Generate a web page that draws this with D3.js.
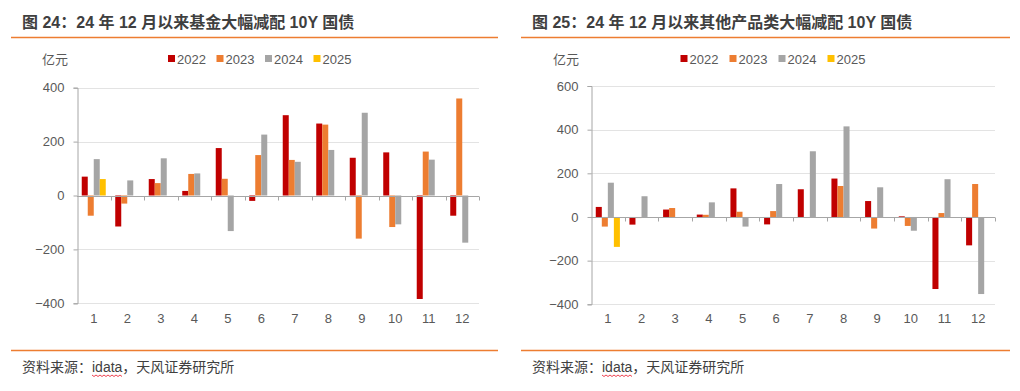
<!DOCTYPE html>
<html>
<head>
<meta charset="utf-8">
<script src="https://cdn.jsdelivr.net/npm/d3@7/dist/d3.min.js"></script>
<style>
  html, body { margin: 0; padding: 0; background: #fff; }
  svg text { font-family: "Liberation Sans", Arial, "Noto Sans CJK SC", sans-serif; }
</style>
</head>
<body>
<div id="main"></div>
<script>
// months on the x axis
var months = ['1', '2', '3', '4', '5', '6', '7', '8', '9', '10', '11', '12'];
var years = ['2022', '2023', '2024', '2025'];
var yearColors = ['#C00000', '#ED7D31', '#A5A5A5', '#FFC000'];

// figure 24: funds, 亿元
var fund2022 = [70, -115, 61, 17, 176, -20, 298, 267, 140, 160, -384, -75];
var fund2023 = [-75, -30, 46, 80, 62, 150, 132, 263, -160, -117, 163, 360];
var fund2024 = [135, 56, 138, 82, -132, 226, 125, 169, 307, -107, 133, -175];
var fund2025 = [61, null, null, null, null, null, null, null, null, null, null, null];
var fundTicks = [-400, -200, 0, 200, 400];

// figure 25: other products, 亿元
var other2022 = [46, -35, 34, 11, 131, -34, 127, 176, 73, 3, -330, -130];
var other2023 = [-44, -5, 41, 10, 24, 27, 0, 142, -53, -41, 18, 151];
var other2024 = [157, 95, 0, 67, -44, 151, 301, 415, 136, -63, 173, -353];
var other2025 = [-137, null, null, null, null, null, null, null, null, null, null, null];
var otherTicks = [-400, -200, 0, 200, 400, 600];

var width = 1020, height = 391;
var svg = d3.select('#main').append('svg').attr('width', width).attr('height', height);

function draw_panel(cfg) {
  var g = svg.append('g').attr('transform', 'translate(' + cfg.left + ',0)');

  // title + orange rules
  g.append('text')
    .attr('x', 22).attr('y', 28)
    .attr('font-size', 16).attr('font-weight', 'bold').attr('fill', '#3F3F3F')
    .text(cfg.title);
  g.append('line').attr('x1', 11).attr('x2', cfg.ruleEnd).attr('y1', 37.5).attr('y2', 37.5)
    .attr('stroke', '#ED7D31').attr('stroke-width', 1.5);
  g.append('line').attr('x1', 11).attr('x2', cfg.ruleEnd).attr('y1', 350.5).attr('y2', 350.5)
    .attr('stroke', '#ED7D31').attr('stroke-width', 1.5);

  // source, with the spell-check squiggle under idata
  var src = g.append('text').attr('x', 22).attr('y', 372).attr('font-size', 14).attr('fill', '#404040');
  src.append('tspan').text('资料来源：');
  var idt = src.append('tspan').text('idata');
  src.append('tspan').text('，天风证券研究所');
  var bb = idt.node().getBBox();
  var wave = [];
  for (var wx = bb.x; wx <= bb.x + bb.width; wx += 2) {
    wave.push([wx, 375 + ((Math.round((wx - bb.x) / 2) % 2) ? 1.5 : 0)]);
  }
  g.append('path').attr('d', d3.line()(wave)).attr('fill', 'none').attr('stroke', '#E81123').attr('stroke-width', 0.8);

  // unit + legend
  g.append('text').attr('x', cfg.unitX).attr('y', 64).attr('font-size', 13).attr('fill', '#595959').text('亿元');
  var leg = g.selectAll('.leg').data(years).enter().append('g')
    .attr('transform', function (d, i) { return 'translate(' + (cfg.legX + i * cfg.legStep) + ',0)'; });
  leg.append('rect').attr('x', 0).attr('y', 55).attr('width', 7).attr('height', 7)
    .attr('fill', function (d, i) { return yearColors[i]; });
  leg.append('text').attr('x', 9).attr('y', 63.5).attr('font-size', 13).attr('fill', '#595959')
    .text(function (d) { return d; });

  var x = d3.scaleBand().domain(months).range([cfg.x0, cfg.x1]).padding(0);
  var xs = d3.scaleBand().domain(years).range([0, x.bandwidth()]).paddingInner(0).paddingOuter(0.79);
  var y = d3.scaleLinear().domain(cfg.domain).range([cfg.y0, cfg.y1]);

  // gridlines
  g.selectAll('.grid').data(cfg.ticks.filter(function (t) { return t !== 0; })).enter().append('line')
    .attr('x1', cfg.x0).attr('x2', cfg.x1)
    .attr('y1', function (d) { return Math.round(y(d)) + 0.5; })
    .attr('y2', function (d) { return Math.round(y(d)) + 0.5; })
    .attr('stroke', '#E3E3E3').attr('stroke-width', 1);

  // bars
  cfg.series.forEach(function (vals, si) {
    var rows = vals.map(function (v, i) { return { m: months[i], v: v }; })
      .filter(function (d) { return d.v !== null && d.v !== 0; });
    g.selectAll('.bar' + si).data(rows).enter().append('rect')
      .attr('class', 'bar' + si)
      .attr('x', function (d) { return x(d.m) + xs(years[si]); })
      .attr('width', xs.bandwidth())
      .attr('y', function (d) { return y(Math.max(0, d.v)); })
      .attr('height', function (d) { return Math.abs(y(d.v) - y(0)); })
      .attr('fill', yearColors[si]);
  });

  // y axis
  var yAxis = d3.axisLeft(y).tickValues(cfg.ticks).tickSize(4).tickPadding(9);
  var ya = g.append('g').attr('transform', 'translate(' + (Math.round(cfg.x0) + 0.5) + ',0)').call(yAxis);
  ya.select('.domain').attr('stroke', '#A6A6A6');
  ya.selectAll('.tick line').attr('stroke', '#A6A6A6');
  ya.selectAll('.tick text').attr('font-size', 13).attr('fill', '#595959')
    .style('font-family', '"Liberation Sans", Arial, sans-serif');

  // zero line with category ticks
  var zy = Math.round(y(0)) + 0.5;
  g.append('line').attr('x1', cfg.x0).attr('x2', cfg.x1).attr('y1', zy).attr('y2', zy)
    .attr('stroke', '#A6A6A6').attr('stroke-width', 1);
  var bounds = months.map(function (m) { return x(m); }).concat([cfg.x1]).slice(1);
  g.selectAll('.ztick').data(bounds).enter().append('line')
    .attr('x1', function (d) { return Math.round(d) + 0.5; })
    .attr('x2', function (d) { return Math.round(d) + 0.5; })
    .attr('y1', zy).attr('y2', zy + 4)
    .attr('stroke', '#A6A6A6');

  // month labels
  g.selectAll('.mlab').data(months).enter().append('text')
    .attr('x', function (d) { return x(d) + x.bandwidth() / 2; })
    .attr('y', 323)
    .attr('text-anchor', 'middle').attr('font-size', 13).attr('fill', '#595959')
    .text(function (d) { return d; });
}

draw_panel({
  left: 0,
  title: '图 24：24 年 12 月以来基金大幅减配 10Y 国债',
  ruleEnd: 498,
  unitX: 42, legX: 168, legStep: 48.5,
  x0: 77, x1: 479,
  domain: [-400, 400], y0: 303.3, y1: 87.7,
  ticks: fundTicks,
  series: [fund2022, fund2023, fund2024, fund2025]
});

draw_panel({
  left: 510,
  title: '图 25：24 年 12 月以来其他产品类大幅减配 10Y 国债',
  ruleEnd: 500,
  unitX: 43, legX: 170.5, legStep: 49,
  x0: 81, x1: 485,
  domain: [-400, 600], y0: 304.3, y1: 86,
  ticks: otherTicks,
  series: [other2022, other2023, other2024, other2025]
});
</script>
</body>
</html>
